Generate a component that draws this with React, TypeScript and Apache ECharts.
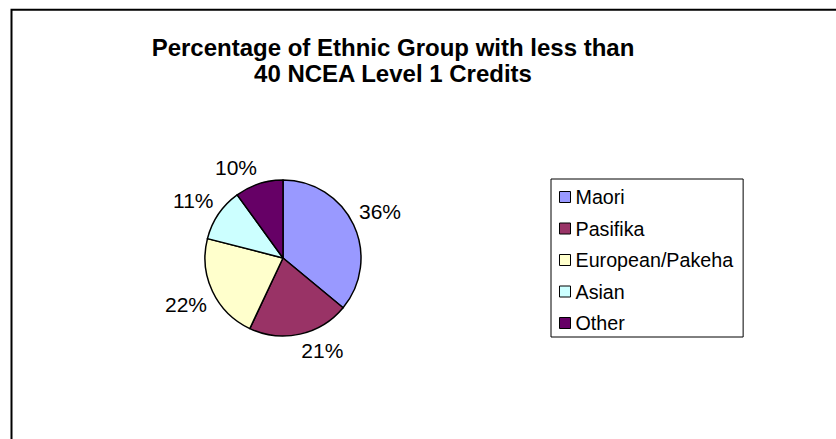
import React, { useEffect, useRef } from "react";
import * as echarts from "echarts";

const titleLines = ["Percentage of Ethnic Group with less than", "40 NCEA Level 1 Credits"];
const categories = ["Maori", "Pasifika", "European/Pakeha", "Asian", "Other"];
const values = [36, 21, 22, 11, 10];
const palette = ["#9999FF", "#993366", "#FFFFCC", "#CCFFFF", "#660066"];

const FONT = "'Liberation Sans', Arial, Helvetica, sans-serif";
const PIE_CENTER = [283, 258];

export default function App() {
  const ref = useRef<HTMLDivElement>(null);

  useEffect(() => {
    if (!ref.current) return;
    const chart = echarts.init(ref.current, undefined, { renderer: "svg" });
    const data = categories.map((name, i) => ({
      name,
      value: values[i],
      itemStyle: { color: palette[i] },
    }));

    chart.setOption({
      animation: false,
      backgroundColor: "#ffffff",
      title: {
        text: titleLines.join("\n"),
        left: 388,
        top: 29,
        textAlign: "center",
        textStyle: {
          fontFamily: FONT,
          fontWeight: "bold",
          fontSize: 24,
          lineHeight: 26,
          color: "#000",
        },
      },
      legend: {
        orient: "vertical",
        left: 551,
        top: 179,
        padding: [8, 10, 4, 8],
        itemGap: 11.5,
        itemWidth: 11,
        itemHeight: 11,
        icon: "rect",
        borderColor: "#000",
        borderWidth: 1,
        backgroundColor: "#fff",
        selectedMode: false,
        data: categories,
        itemStyle: { borderColor: "#000", borderWidth: 1 },
        textStyle: {
          fontFamily: FONT,
          fontSize: 19.7,
          lineHeight: 20,
          color: "#000",
        },
      },
      graphic: [
        {
          type: "rect",
          silent: true,
          shape: { x: 11.5, y: 9.8, width: 2000, height: 2000 },
          style: { fill: "none", stroke: "#000", lineWidth: 2 },
        },
      ],
      series: [
        {
          type: "pie",
          name: "pie",
          center: PIE_CENTER,
          radius: 78,
          startAngle: 90,
          clockwise: true,
          avoidLabelOverlap: false,
          label: {
            show: true,
            position: "outside",
            formatter: (p: any) => Math.round(p.percent) + "%",
            fontFamily: FONT,
            fontSize: 21,
            color: "#000",
          },
          labelLine: { show: false, length: 6, length2: -5 },
          labelLayout: (p: any) => {
            const mid = p.labelRect.y + p.labelRect.height / 2;
            return { verticalAlign: mid < PIE_CENTER[1] ? "bottom" : "top" };
          },
          itemStyle: { borderColor: "#000", borderWidth: 1.5 },
          emphasis: { disabled: true },
          silent: true,
          data,
        },
      ],
    });

    return () => chart.dispose();
  }, []);

  return (
    <div
      ref={ref}
      style={{ position: "fixed", left: 0, top: 0, width: 836, height: 439 }}
    />
  );
}
